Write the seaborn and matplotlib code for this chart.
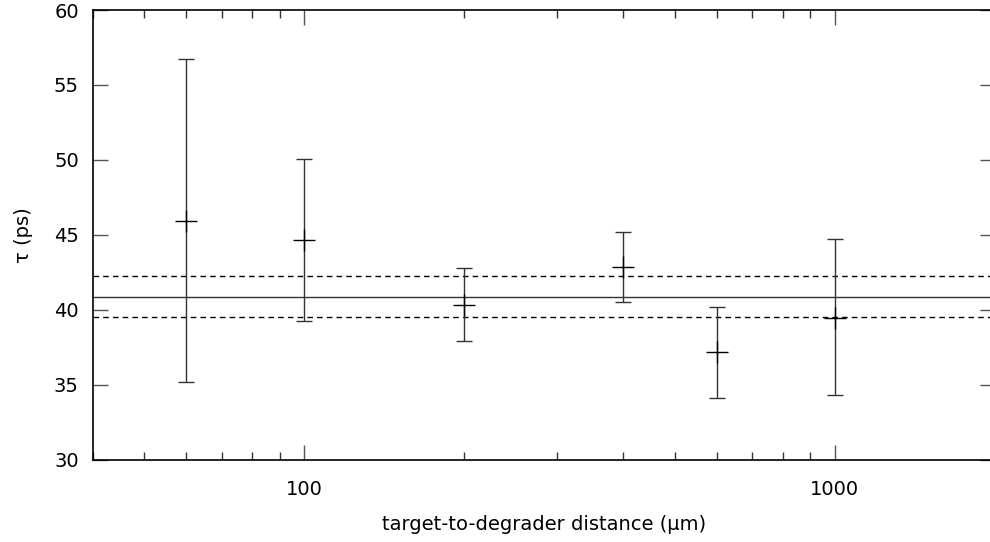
import matplotlib
matplotlib.use("Agg")
import matplotlib.pyplot as plt
import matplotlib.ticker as mticker
import seaborn as sns
import pandas as pd

# Data
distance = [60, 100, 200, 400, 600, 1000]
tau = [45.95, 44.66, 40.34, 42.83, 37.15, 39.47]
tau_low = [35.15, 39.23, 37.91, 40.51, 34.13, 34.28]
tau_high = [56.73, 50.07, 42.77, 45.17, 40.18, 44.70]
mean_tau = 40.85
mean_low = 39.49
mean_high = 42.23

x_label = "target-to-degrader distance (μm)"
y_label = "τ (ps)"

sns.set_style("ticks")
plt.rcParams['font.family'] = ['DejaVu Sans']
plt.rcParams['text.color'] = 'black'
plt.rcParams['axes.labelcolor'] = 'black'
plt.rcParams['xtick.labelcolor'] = 'black'
plt.rcParams['ytick.labelcolor'] = 'black'

df = pd.DataFrame({"distance": distance, "tau": tau})

fig = plt.figure(figsize=(9.9, 5.42), dpi=100)
W, H = 990, 542
ax = fig.add_axes([92.7 / W, 1 - 459.5 / H, (994.5 - 92.7) / W, (459.5 - 10) / H])

ax.set_xscale("log")
ax.set_xlim(40, 2000)
ax.set_ylim(30, 60)

# reference lines
ax.axhline(mean_tau, color="#333333", lw=1.0, zorder=1)
ax.axhline(mean_high, color="black", lw=1.0, ls=(0, (4, 3)), zorder=1)
ax.axhline(mean_low, color="black", lw=1.0, ls=(0, (4, 3)), zorder=1)

yerr = [[t - l for t, l in zip(tau, tau_low)], [h - t for t, h in zip(tau, tau_high)]]
ax.errorbar(distance, tau, yerr=yerr, fmt="none", ecolor="#333333",
            elinewidth=1.0, capsize=6, capthick=1.0, zorder=2)
sns.scatterplot(data=df, x="distance", y="tau", marker="+", s=260,
                color="black", linewidth=1.0, ax=ax, zorder=3, legend=False)

ax.set_xlabel(x_label, fontsize=14, labelpad=11)
ax.set_ylabel(y_label, fontsize=14, labelpad=15)

ax.xaxis.set_major_locator(mticker.FixedLocator([100, 1000]))
ax.xaxis.set_major_formatter(mticker.FixedFormatter(["100", "1000"]))
ax.xaxis.set_minor_locator(mticker.LogLocator(base=10, subs=range(2, 10)))
ax.xaxis.set_minor_formatter(mticker.NullFormatter())
ax.set_yticks([30, 35, 40, 45, 50, 55, 60])

ax.tick_params(axis="both", which="major", direction="in", length=11, width=1.0,
               color="#555555", top=True, right=True, labelsize=14, pad=10)
ax.tick_params(axis="both", which="minor", direction="in", length=6, width=1.0,
               color="#333333", top=True, right=True)
ax.tick_params(axis="x", which="major", pad=15)

for s in ax.spines.values():
    s.set_linewidth(1.2)
    s.set_color("black")

fig.savefig("out.png", dpi=100)
